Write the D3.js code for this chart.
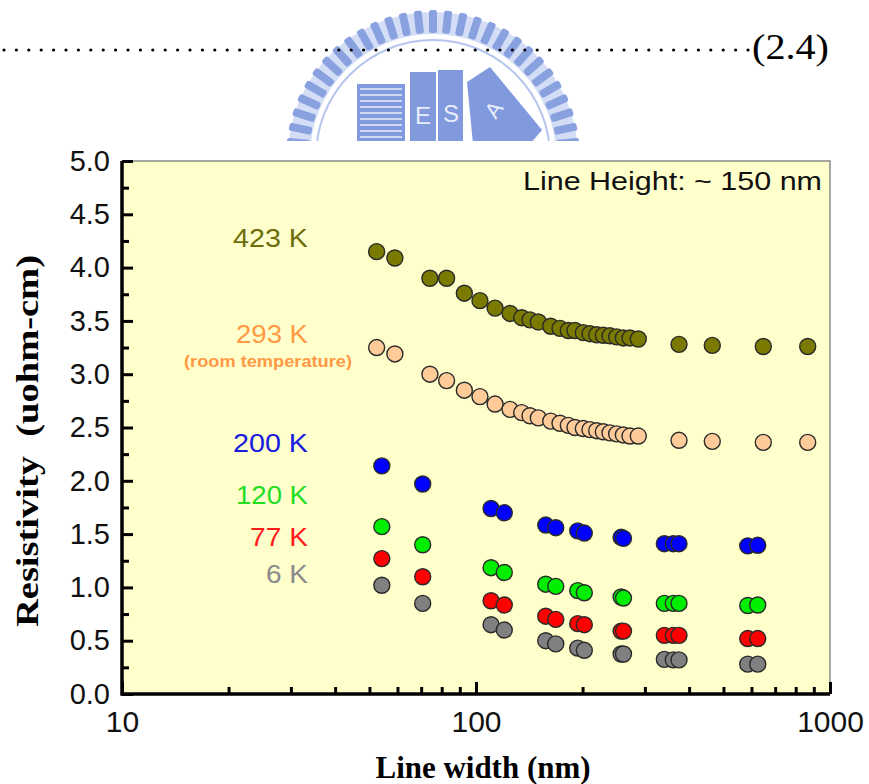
<!DOCTYPE html>
<html lang="en">
<head>
<meta charset="UTF-8">
<title>Resistivity vs line width</title>
<style>
  body { margin: 0; background: #fff; }
  svg { display: block; }
  .tick text { font-family: "Liberation Sans", Arial, sans-serif; fill: #111; }
  .tick line { stroke: #000; stroke-width: 3; }
</style>
</head>
<body>
<svg id="chart" width="869" height="784"></svg>
<script src="https://d3js.org/d3.v7.min.js"></script>
<script>
// line widths (nm) for the 423 K / 293 K curves
const widthsUpper = [52.4, 59.0, 74.1, 82.6, 92.7, 102.6, 113.2, 124.8, 134.6, 142.1, 150.0, 162.6, 172.7, 182.3,
  190.4, 201.0, 209.9, 219.3, 228.9, 239.0, 249.7, 260.8, 272.3, 287.4, 374.5, 465.0, 648, 865];
const rho423 = [4.15, 4.09, 3.90, 3.90, 3.76, 3.69, 3.62, 3.57, 3.53, 3.51, 3.49, 3.45, 3.43, 3.41,
  3.41, 3.39, 3.38, 3.37, 3.365, 3.36, 3.35, 3.34, 3.34, 3.33, 3.28, 3.27, 3.26, 3.26];
const rho293 = [3.25, 3.19, 3.00, 2.94, 2.85, 2.79, 2.72, 2.67, 2.64, 2.61, 2.59, 2.56, 2.54, 2.52,
  2.50, 2.49, 2.48, 2.47, 2.46, 2.45, 2.44, 2.43, 2.42, 2.42, 2.38, 2.37, 2.36, 2.36];

// line widths (nm) for the low temperature sets
const widthsLower = [54.2, 70.7, 110.3, 120.2, 157.4, 168, 193.8, 202.3, 257, 261, 340.4, 360.9, 374.5, 585.6, 625];
const rho200 = [2.14, 1.97, 1.74, 1.70, 1.585, 1.56, 1.53, 1.51, 1.47, 1.46, 1.41, 1.41, 1.41, 1.39, 1.395];
const rho120 = [1.57, 1.40, 1.185, 1.14, 1.03, 1.01, 0.97, 0.95, 0.91, 0.90, 0.85, 0.85, 0.85, 0.83, 0.835];
const rho77 = [1.27, 1.10, 0.875, 0.835, 0.73, 0.70, 0.66, 0.65, 0.59, 0.59, 0.55, 0.55, 0.55, 0.52, 0.52];
const rho6 = [1.02, 0.85, 0.65, 0.60, 0.50, 0.47, 0.43, 0.41, 0.375, 0.375, 0.325, 0.32, 0.32, 0.28, 0.28];

const xMajor = [10, 100, 1000];
const xMinor = [20, 30, 40, 50, 60, 70, 80, 90, 200, 300, 400, 500, 600, 700, 800, 900];
const yMajor = [0, 0.5, 1, 1.5, 2, 2.5, 3, 3.5, 4, 4.5, 5];
const yMinor = [0.25, 0.75, 1.25, 1.75, 2.25, 2.75, 3.25, 3.75, 4.25, 4.75];

const series = [
  {label: "423 K", xs: widthsUpper, ys: rho423, fill: "#7a7a00", text: "#6e6e0a"},
  {label: "293 K", xs: widthsUpper, ys: rho293, fill: "#ffcc99", text: "#ff9a44"},
  {label: "200 K", xs: widthsLower, ys: rho200, fill: "#0000ff", text: "#1a1ae0"},
  {label: "120 K", xs: widthsLower, ys: rho120, fill: "#00ee00", text: "#22dd22"},
  {label: "77 K",  xs: widthsLower, ys: rho77,  fill: "#ff0000", text: "#ff1a1a"},
  {label: "6 K",   xs: widthsLower, ys: rho6,   fill: "#808080", text: "#8a8a8a"}
];

const svg = d3.select("#chart");
const sans = '"Liberation Sans", Arial, sans-serif';
const serif = '"Liberation Serif", "Times New Roman", serif';

// --- page header: watermark, dotted leader and equation number ---
const wm = svg.append("g");
const cx = 433, cy = 157;
wm.append("circle").attr("cx", cx).attr("cy", cy).attr("r", 134)
  .attr("fill", "none").attr("stroke", "#d3ddf5").attr("stroke-width", 22);
d3.range(0, 360, 6).forEach(a => {
  wm.append("rect")
    .attr("x", -4).attr("y", -147).attr("width", 8).attr("height", 23).attr("rx", 2.5)
    .attr("fill", "#8aa1e0")
    .attr("transform", `translate(${cx},${cy}) rotate(${a})`);
});
wm.append("circle").attr("cx", cx).attr("cy", cy).attr("r", 117)
  .attr("fill", "none").attr("stroke", "#b6c5ee").attr("stroke-width", 2);
const bld = wm.append("g").attr("fill", "#8199dd");
bld.append("rect").attr("x", 357).attr("y", 84).attr("width", 48).attr("height", 60);
d3.range(89, 140, 6).forEach(y => {
  wm.append("line").attr("x1", 360).attr("x2", 402).attr("y1", y).attr("y2", y)
    .attr("stroke", "#e9eefa").attr("stroke-width", 1.5);
});
bld.append("rect").attr("x", 410).attr("y", 72).attr("width", 26).attr("height", 72);
bld.append("rect").attr("x", 438).attr("y", 70).attr("width", 25).attr("height", 74);
bld.append("polygon").attr("points", "467,82 490,67 542,130 530,144 473,144");
wm.append("text").attr("x", 423).attr("y", 124).attr("text-anchor", "middle")
  .attr("font-family", sans).attr("font-size", 24).attr("fill", "#e9eefa").text("E");
wm.append("text").attr("x", 451).attr("y", 122).attr("text-anchor", "middle")
  .attr("font-family", sans).attr("font-size", 24).attr("fill", "#e9eefa").text("S");
wm.append("text").attr("transform", "translate(500,114) rotate(-55)").attr("text-anchor", "middle")
  .attr("font-family", sans).attr("font-size", 22).attr("fill", "#e9eefa").text("A");

svg.append("g").selectAll("circle")
  .data(d3.range(4, 750, 12.4))
  .join("circle")
  .attr("cx", d => d).attr("cy", 50).attr("r", 1.6).attr("fill", "#000");
svg.append("text").attr("x", 752).attr("y", 59)
  .attr("font-family", serif).attr("font-size", 36).attr("fill", "#000")
  .attr("textLength", 77).attr("lengthAdjust", "spacingAndGlyphs")
  .text("(2.4)");

// chart image sits on top of the watermark
svg.append("rect").attr("x", 0).attr("y", 141).attr("width", 869).attr("height", 643).attr("fill", "#fff");

// --- chart ---
const x = d3.scaleLog().domain([10, 1000]).range([122, 830]);
const y = d3.scaleLinear().domain([0, 5]).range([694, 161]);

svg.append("rect")
  .attr("x", x(10)).attr("y", y(5))
  .attr("width", x(1000) - x(10)).attr("height", y(0) - y(5))
  .attr("fill", "#ffffcc");
svg.append("path")
  .attr("d", `M${x(10)},${y(5)}H${x(1000)}V${y(0)}`)
  .attr("fill", "none").attr("stroke", "#8a8a8a").attr("stroke-width", 1.5);

// minor ticks
svg.append("g").attr("transform", `translate(0,${y(0)})`)
  .call(d3.axisBottom(x).tickValues(xMinor).tickSize(-7).tickFormat(""))
  .call(g => g.select(".domain").remove());
svg.append("g").attr("transform", `translate(${x(10)},0)`)
  .call(d3.axisLeft(y).tickValues(yMinor).tickSize(-7).tickFormat(""))
  .call(g => g.select(".domain").remove());

// major ticks with labels
svg.append("g").attr("transform", `translate(0,${y(0)})`)
  .call(d3.axisBottom(x).tickValues(xMajor).tickSize(-12).tickPadding(17).tickFormat(d3.format("d")))
  .call(g => g.select(".domain").remove())
  .call(g => g.selectAll("text").attr("font-size", 30));
svg.append("g").attr("transform", `translate(${x(10)},0)`)
  .call(d3.axisLeft(y).tickValues(yMajor).tickSize(-11).tickPadding(12).tickFormat(d3.format(".1f")))
  .call(g => g.select(".domain").remove())
  .call(g => g.selectAll("text").attr("font-size", 29));

// axis lines
svg.append("path")
  .attr("d", `M${x(10)},${y(5)}V${y(0)}H${x(1000)}`)
  .attr("fill", "none").attr("stroke", "#000").attr("stroke-width", 3.5);

// points
series.forEach(s => {
  svg.append("g").selectAll("circle")
    .data(s.xs.map((w, i) => [w, s.ys[i]]))
    .join("circle")
    .attr("cx", d => x(d[0])).attr("cy", d => y(d[1]))
    .attr("r", 8)
    .attr("fill", s.fill)
    .attr("stroke", "#2a2a2a").attr("stroke-width", 1.4);
});

// series labels
const labelPos = [[247, 75], [343, 72], [452, 75], [504, 72], [546, 58], [583, 42]];
series.forEach((s, i) => {
  svg.append("text")
    .attr("x", 308).attr("y", labelPos[i][0])
    .attr("text-anchor", "end")
    .attr("font-family", sans).attr("font-size", 26)
    .attr("fill", s.text)
    .attr("textLength", labelPos[i][1]).attr("lengthAdjust", "spacingAndGlyphs")
    .text(s.label);
});
svg.append("text")
  .attr("x", 268).attr("y", 367).attr("text-anchor", "middle")
  .attr("font-family", sans).attr("font-size", 16).attr("font-weight", "bold")
  .attr("fill", "#ff9a44")
  .attr("textLength", 168).attr("lengthAdjust", "spacingAndGlyphs")
  .text("(room temperature)");

svg.append("text")
  .attr("x", 523).attr("y", 190)
  .attr("font-family", sans).attr("font-size", 25).attr("fill", "#111")
  .attr("textLength", 299).attr("lengthAdjust", "spacingAndGlyphs")
  .text("Line Height: ~ 150 nm");

// axis titles
svg.append("text")
  .attr("x", 483).attr("y", 778).attr("text-anchor", "middle")
  .attr("font-family", serif).attr("font-size", 32).attr("font-weight", "bold").attr("fill", "#000")
  .attr("textLength", 215).attr("lengthAdjust", "spacingAndGlyphs")
  .text("Line width (nm)");
svg.append("text")
  .attr("transform", "translate(38,441) rotate(-90)")
  .attr("text-anchor", "middle")
  .attr("font-family", serif).attr("font-size", 32).attr("font-weight", "bold").attr("fill", "#000")
  .attr("textLength", 372).attr("lengthAdjust", "spacingAndGlyphs")
  .attr("xml:space", "preserve")
  .text("Resistivity  (uohm-cm)");
</script>
</body>
</html>
